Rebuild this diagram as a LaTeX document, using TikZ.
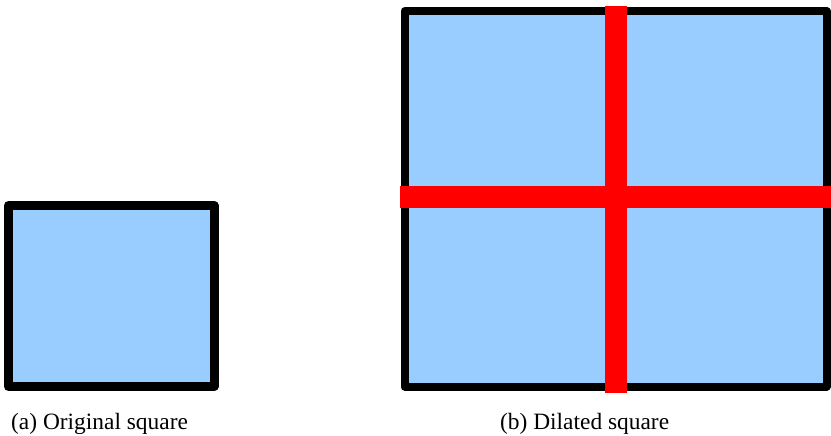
\documentclass[tikz,border=0pt]{standalone}
\usepackage{fontspec}
\setmainfont{Liberation Serif}
\definecolor{sqblue}{HTML}{99CCFF}
\definecolor{cutred}{HTML}{FF0000}
\begin{document}
\begin{tikzpicture}[x=1pt,y=-1pt,
  square/.style={fill=sqblue,draw=black,line join=round},
  cut/.style={draw=cutred,line width=22pt},
  caption/.style={anchor=base west,inner sep=0pt,font=\fontsize{23.4}{26}\selectfont}]
\useasboundingbox (0,0) rectangle (831,436);
% (a) original square
\draw[square,line width=9pt] (8.5,205.5) rectangle (214,386.5);
% (b) dilated square
\draw[square,line width=8pt] (404.5,11) rectangle (826.5,386.5);
\draw[cut] (615.5,6) -- (615.5,393);
\draw[cut] (400,197) -- (831,197);
\node[caption] (capa) at (11,429) {(a) Original square};
\node[caption] (capb) at (500,429) {(b) Dilated square};
\end{tikzpicture}
\end{document}
